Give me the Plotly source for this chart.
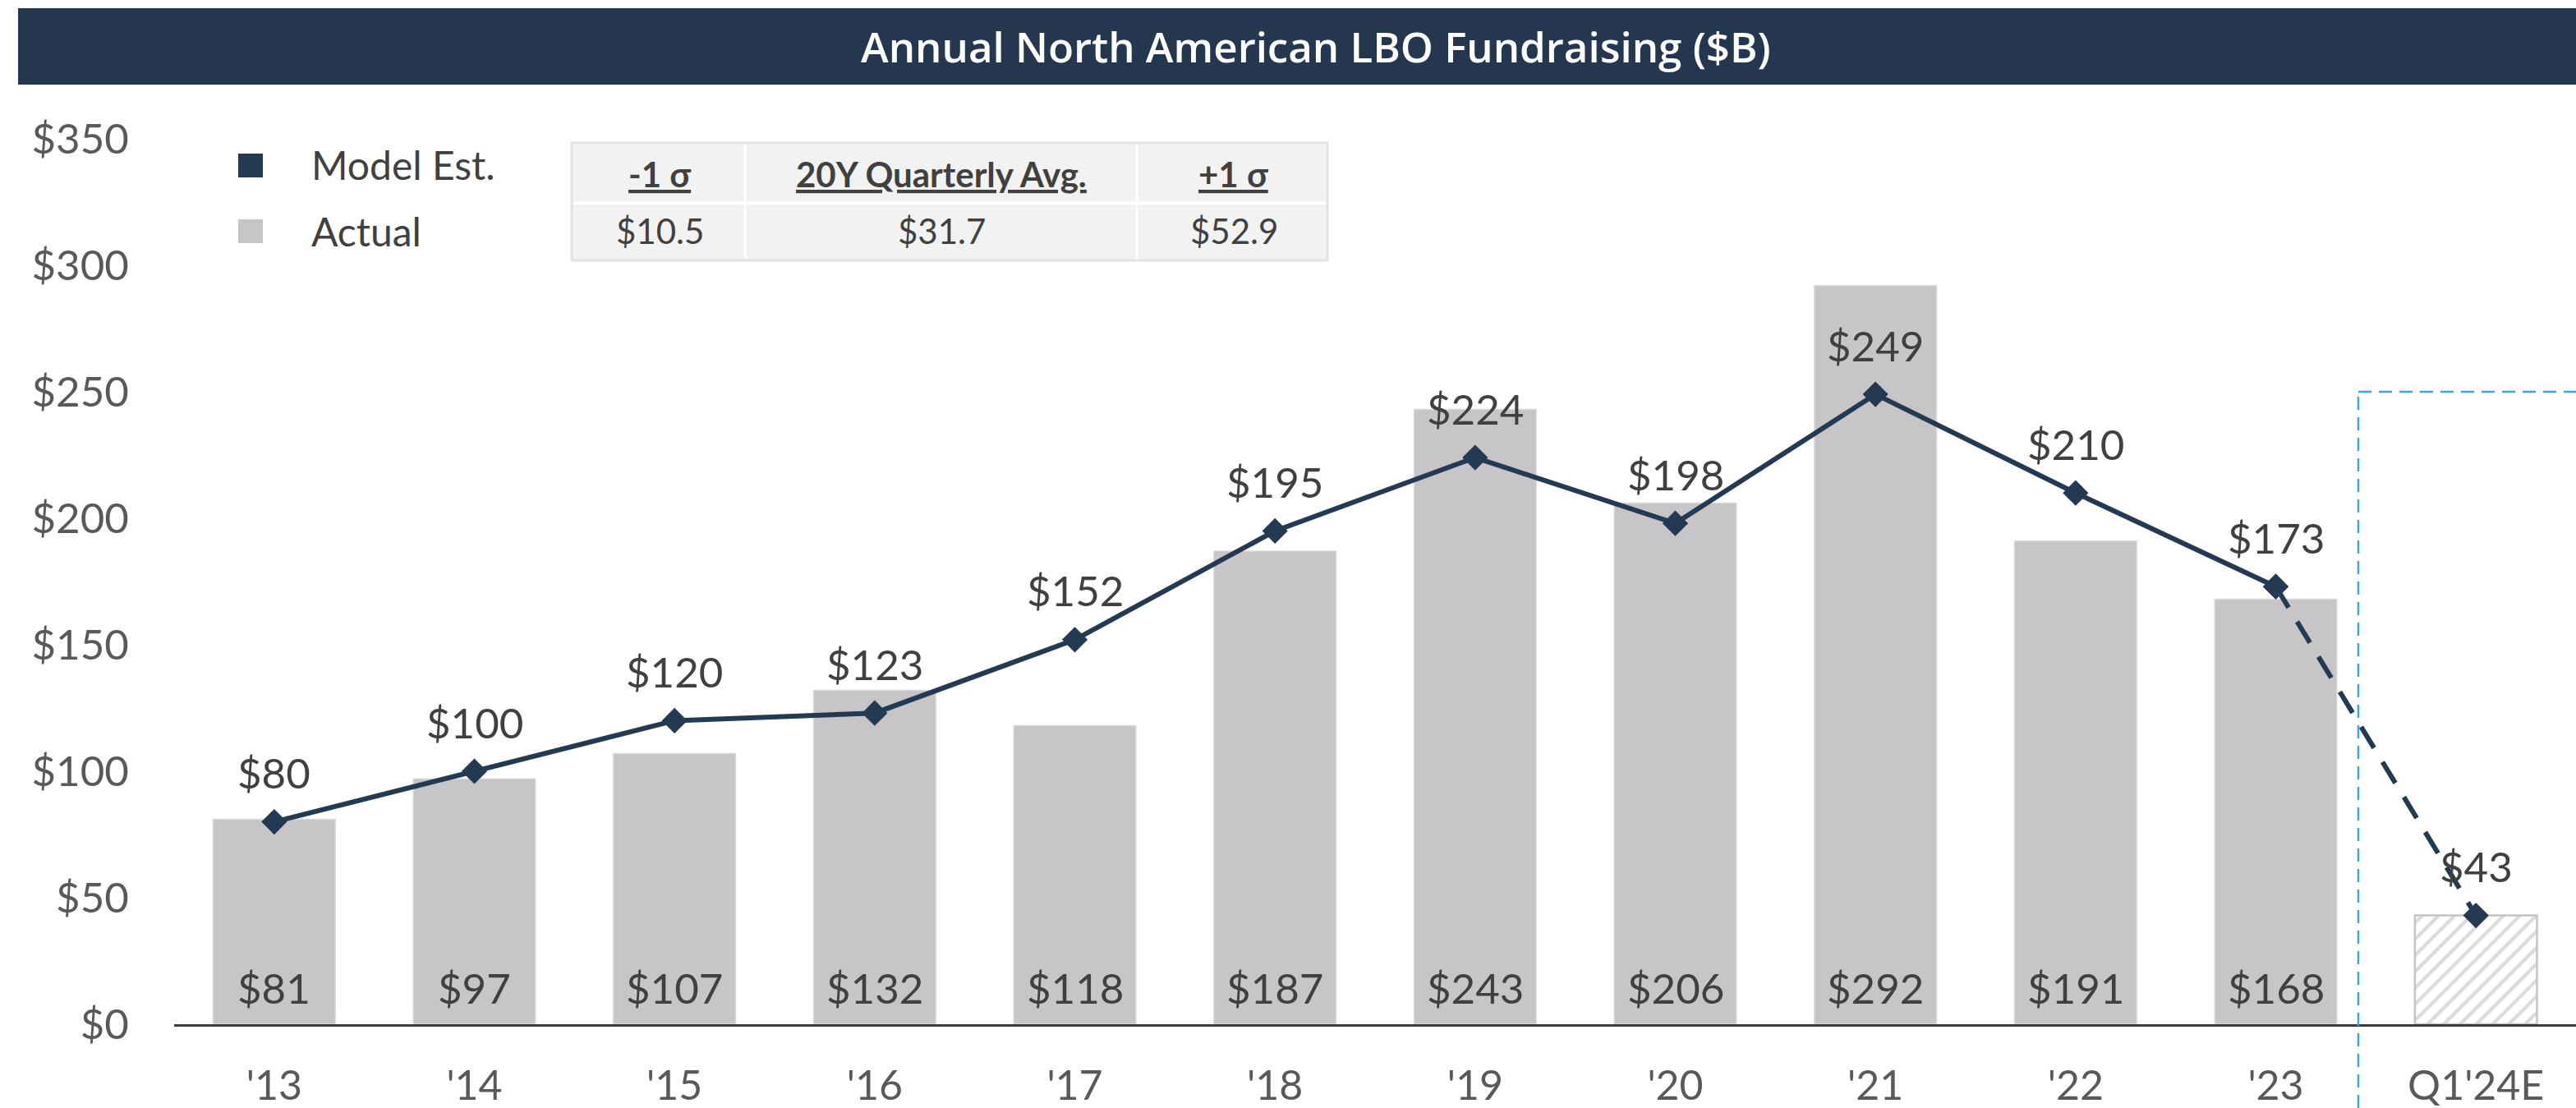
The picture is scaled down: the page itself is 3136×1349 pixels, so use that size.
import plotly.graph_objects as go

# ---------------- data ----------------
categories = ["'13", "'14", "'15", "'16", "'17", "'18", "'19", "'20", "'21", "'22", "'23", "Q1'24E"]
actual = [81, 97, 107, 132, 118, 187, 243, 206, 292, 191, 168]      # '13 - '23
q1_partial = [43]                                                     # Q1'24E hatched bar
model_est = [80, 100, 120, 123, 152, 195, 224, 198, 249, 210, 173, 43]
y_ticks = [0, 50, 100, 150, 200, 250, 300, 350]
table_headers = ["-1 σ", "20Y Quarterly Avg.", "+1 σ"]
table_values = ["$10.5", "$31.7", "$52.9"]
legend_items = ["Model Est.", "Actual"]
title_text = "Annual North American LBO Fundraising ($B)"

# ---------------- styling ----------------
W, H = 3136, 1349
L, R, T, B = 212, 0, 169, 102
NAVY = "#243A53"
BAR = "#C7C5C8"
TXT = "#404040"
TICK = "#595959"
FONT = "Lato"

def px2x(px):
    return (px - L) / (W - L - R)

def py2y(py):
    return (H - B - py) / (H - T - B)

fig = go.Figure()

fig.add_trace(go.Bar(
    x=categories[:len(actual)], y=actual, width=0.61,
    marker=dict(color=BAR, line=dict(color="#D9D8DA", width=1.5)),
    showlegend=False, hoverinfo="skip",
))
fig.add_trace(go.Bar(
    x=categories[len(actual):], y=q1_partial, width=0.61,
    marker=dict(color="white", line=dict(color="#C4C4C4", width=2.5),
                pattern=dict(shape="/", fgcolor="#B5B5B5", bgcolor="white",
                             size=14, solidity=0.3)),
    showlegend=False, hoverinfo="skip",
))

n_solid = len(actual)
fig.add_trace(go.Scatter(
    x=categories[n_solid - 1:], y=model_est[n_solid - 1:], mode="lines+markers",
    line=dict(color=NAVY, width=6, dash="30px,20px"),
    marker=dict(symbol="diamond", size=24, color=NAVY),
    showlegend=False, hoverinfo="skip",
))
fig.add_trace(go.Scatter(
    x=categories[:n_solid], y=model_est[:n_solid], mode="lines+markers",
    line=dict(color=NAVY, width=6),
    marker=dict(symbol="diamond", size=24, color=NAVY),
    showlegend=False, hoverinfo="skip",
))

annotations = []
# line labels
for c, v in zip(categories, model_est):
    annotations.append(dict(x=c, y=v, text=f"${v}", showarrow=False, yshift=60,
                            yanchor="middle", font=dict(family=FONT, size=51, color=TXT)))
# bar labels at base
for c, v in zip(categories, actual):
    annotations.append(dict(x=c, y=0, text=f"${v}", showarrow=False, yshift=45,
                            yanchor="middle", font=dict(family=FONT, size=51, color=TXT)))

shapes = []
# title bar
shapes.append(dict(type="rect", xref="paper", yref="paper",
                   x0=px2x(22), x1=px2x(3140), y0=py2y(103), y1=py2y(10),
                   fillcolor="#24374F", line=dict(width=0), layer="above"))
annotations.append(dict(xref="paper", yref="paper", x=px2x(1602), y=py2y(56),
                        text=title_text, showarrow=False,
                        xanchor="center", yanchor="middle",
                        font=dict(family="Open Sans", size=51, color="white", weight=600)))

# legend
leg_colors = [NAVY, BAR]
leg_y = [(187, 216), (267, 296)]
leg_text_y = [200, 281]
for name, col, (a, b), ty in zip(legend_items, leg_colors, leg_y, leg_text_y):
    shapes.append(dict(type="rect", xref="paper", yref="paper",
                       x0=px2x(290), x1=px2x(320), y0=py2y(b), y1=py2y(a),
                       fillcolor=col, line=dict(width=0)))
    annotations.append(dict(xref="paper", yref="paper", x=px2x(377), y=py2y(ty),
                            text=name, showarrow=False, xanchor="left", yanchor="middle",
                            font=dict(family=FONT, size=48, color=TXT)))

# stats table
shapes.append(dict(type="rect", xref="paper", yref="paper",
                   x0=px2x(696), x1=px2x(1616), y0=py2y(317), y1=py2y(174),
                   fillcolor="#F2F2F2", line=dict(color="#E2E2E2", width=3)))
shapes.append(dict(type="line", xref="paper", yref="paper",
                   x0=px2x(698), x1=px2x(1614), y0=py2y(247), y1=py2y(247),
                   line=dict(color="white", width=4)))
for cx in (907, 1384):
    shapes.append(dict(type="line", xref="paper", yref="paper",
                       x0=px2x(cx), x1=px2x(cx), y0=py2y(315), y1=py2y(176),
                       line=dict(color="white", width=3)))
col_centers = [803, 1146, 1502]
for hdr, val, cx in zip(table_headers, table_values, col_centers):
    annotations.append(dict(xref="paper", yref="paper", x=px2x(cx), y=py2y(212),
                            text=f"<b><u>{hdr}</u></b>", showarrow=False,
                            xanchor="center", yanchor="middle",
                            font=dict(family=FONT, size=42, color=TXT)))
    annotations.append(dict(xref="paper", yref="paper", x=px2x(cx), y=py2y(281),
                            text=val, showarrow=False,
                            xanchor="center", yanchor="middle",
                            font=dict(family=FONT, size=42, color=TXT)))

# forecast dashed box
shapes.append(dict(type="line", xref="paper", yref="paper",
                   x0=px2x(2871), x1=px2x(2871), y0=py2y(1349), y1=py2y(477),
                   line=dict(color="#3FA4DB", width=2.5, dash="16px,9px")))
shapes.append(dict(type="line", xref="paper", yref="paper",
                   x0=px2x(2871), x1=px2x(3140), y0=py2y(477), y1=py2y(477),
                   line=dict(color="#3FA4DB", width=2.5, dash="16px,9px")))

fig.update_layout(
    width=W, height=H,
    margin=dict(l=L, r=R, t=T, b=B, pad=0, autoexpand=False),
    paper_bgcolor="white", plot_bgcolor="white",
    barmode="overlay",
    showlegend=False,
    font=dict(family=FONT, color=TXT),
    annotations=annotations,
    shapes=shapes,
    xaxis=dict(
        categoryorder="array", categoryarray=categories,
        range=[-0.5, len(categories) - 0.5],
        showline=True, linecolor="#3A3A3A", linewidth=3,
        showgrid=False, zeroline=False, automargin=False,
        ticks="outside", ticklen=29, tickcolor="rgba(0,0,0,0)",
        tickfont=dict(family=FONT, size=50, color=TICK),
    ),
    yaxis=dict(
        range=[0, 350], tickvals=y_ticks,
        ticktext=[f"${v}" for v in y_ticks],
        showgrid=False, zeroline=False, showline=False, automargin=False,
        ticks="outside", ticklen=44, tickcolor="rgba(0,0,0,0)",
        tickfont=dict(family=FONT, size=51, color=TICK),
    ),
)

fig.write_html("out.html", config={"displayModeBar": False},
               post_script="document.body.style.margin='0';document.body.style.overflow='hidden';")
